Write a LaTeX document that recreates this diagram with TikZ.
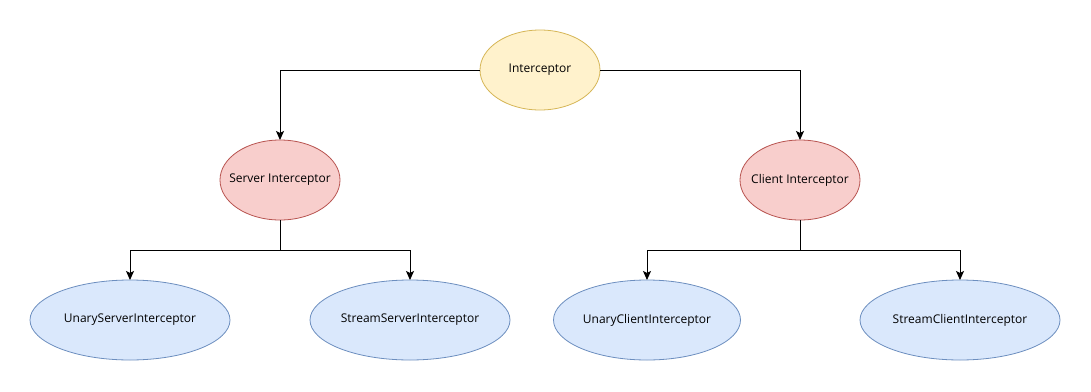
\documentclass[tikz,border=0pt]{standalone}
\usepackage{fontspec}
\setmainfont{Open Sans}
\usetikzlibrary{arrows.meta,shapes.geometric}
\definecolor{yfill}{HTML}{FFF2CC}\definecolor{ydraw}{HTML}{D6B656}
\definecolor{rfill}{HTML}{F8CECC}\definecolor{rdraw}{HTML}{B85450}
\definecolor{bfill}{HTML}{DAE8FC}\definecolor{bdraw}{HTML}{6C8EBF}
\tikzset{
  x=1pt,y=-1pt,
  oval/.style={ellipse,inner sep=0pt,outer sep=0pt,line width=0.8pt,minimum height=80pt,
    label={[font=\fontsize{12}{14}\selectfont,inner sep=0pt]center:#1}},
  yoval/.style={oval=#1,fill=yfill,draw=ydraw,minimum width=120pt},
  roval/.style={oval=#1,fill=rfill,draw=rdraw,minimum width=120pt},
  boval/.style={oval=#1,fill=bfill,draw=bdraw,minimum width=200pt},
  conn/.style={line width=0.9pt,-{Stealth[length=9pt,width=8pt,inset=2pt]}},
  link/.style={line width=0.9pt},
}
\begin{document}
\begin{tikzpicture}
\useasboundingbox[fill=white] (0,0) rectangle (1091,391);
\node[yoval=Interceptor] (root) at (540,70) {};
\node[roval=Server Interceptor] (srv) at (280,180) {};
\node[roval=Client Interceptor] (cli) at (800,180) {};
\node[boval=UnaryServerInterceptor] (us) at (130,320) {};
\node[boval=StreamServerInterceptor] (ss) at (410,320) {};
\node[boval=UnaryClientInterceptor,minimum width=187pt] (uc) at (647,320) {};
\node[boval=StreamClientInterceptor] (sc) at (960,320) {};
\coordinate (sj) at (280,250);
\coordinate (cj) at (800,250);
\draw[conn] (root.west) -| (srv.north);
\draw[conn] (root.east) -| (cli.north);
\draw[link] (srv.south) -- (sj);
\draw[conn] (sj) -| (us.north);
\draw[conn] (sj) -| (ss.north);
\draw[link] (cli.south) -- (cj);
\draw[conn] (cj) -| (uc.north);
\draw[conn] (cj) -| (sc.north);
\end{tikzpicture}
\end{document}
